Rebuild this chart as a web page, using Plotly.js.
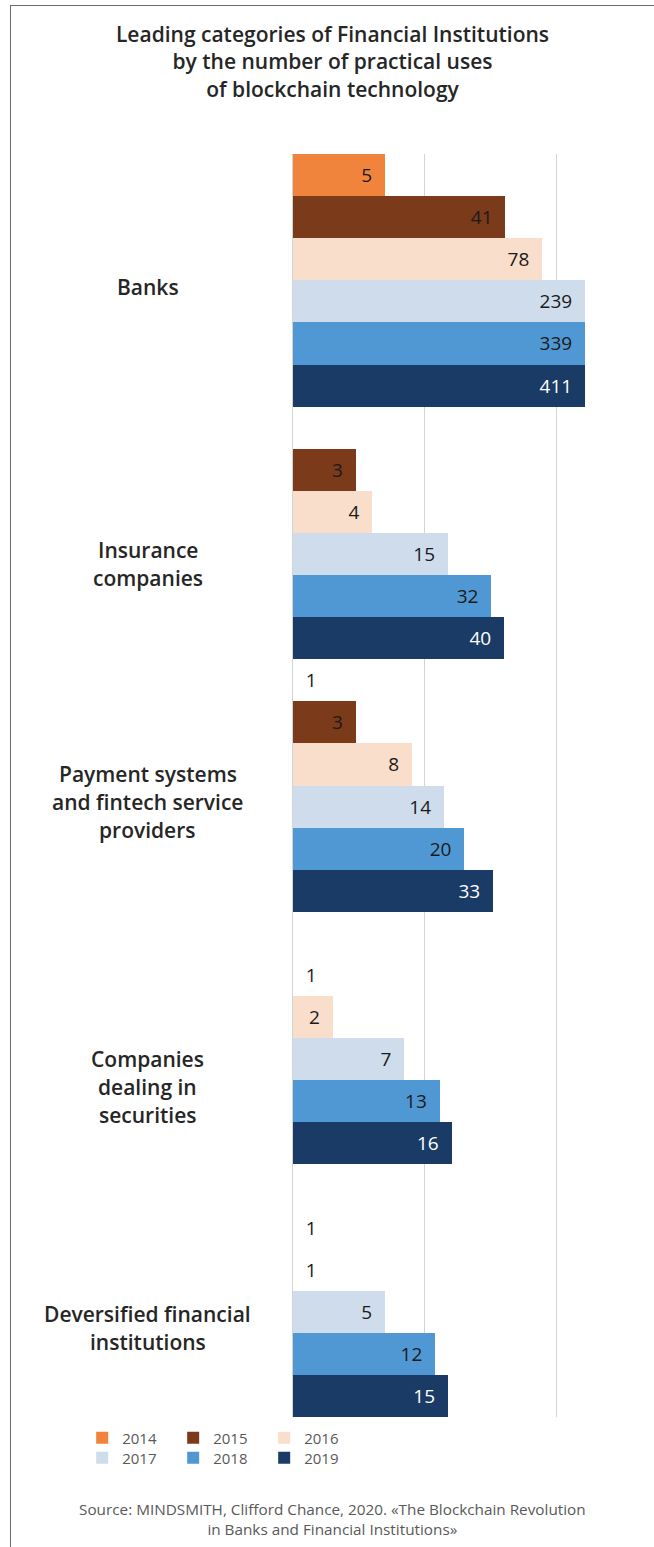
<!DOCTYPE html>
<html><head><meta charset="utf-8">
<script src="https://cdn.plot.ly/plotly-3.0.1.min.js"></script>
<style>
html,body{margin:0;padding:0;background:#fff;}
#wrap{position:relative;width:654px;height:1547px;overflow:hidden;}
#chart{width:654px;height:1547px;}
#frame{position:absolute;left:10px;top:5px;right:-5px;bottom:-5px;border-top:1px solid #6b6b6b;border-left:1px solid #6b6b6b;pointer-events:none;}
</style></head><body>
<div id="wrap"><div id="chart"></div><div id="frame"></div></div>
<script>
// ---- data ----
const categories = [
  'Banks',
  'Insurance<br>companies',
  'Payment systems<br>and fintech service<br>providers',
  'Companies<br>dealing in<br>securities',
  'Deversified financial<br>institutions'
];
const years = ['2014', '2015', '2016', '2017', '2018', '2019'];
const v2014 = [5, null, 1, null, null];
const v2015 = [41, 3, 3, 1, 1];
const v2016 = [78, 4, 8, 2, 1];
const v2017 = [239, 15, 14, 7, 5];
const v2018 = [339, 32, 20, 13, 12];
const v2019 = [411, 40, 33, 16, 15];
const seriesValues = [v2014, v2015, v2016, v2017, v2018, v2019];

const titleText = 'Leading categories of Financial Institutions<br>by the number of practical uses<br>of blockchain technology';
const sourceText = 'Source: MINDSMITH, Clifford Chance, 2020. «The Blockchain Revolution<br>in Banks and Financial Institutions»';

// ---- styles ----
const colors = ['#F1843D', '#7B3B1A', '#F9DECB', '#CFDCEC', '#5098D3', '#193B66'];
const textColors = ['#1a1a1a', '#1a1a1a', '#1a1a1a', '#1a1a1a', '#1a1a1a', '#ffffff'];
const FONT = 'Open Sans, Noto Sans, sans-serif';
const logMax = 2.217;               // x axis upper end (log10)
const axisTop = Math.pow(10, logMax);
const labelNudge = [0.027, 0.123, 0.065, 0.194, 0.148]; // label centre offsets (category units)
const lineStep = 28.3;              // px between label lines

const traces = years.map((yr, k) => ({
  type: 'bar',
  orientation: 'h',
  name: yr,
  y: categories,
  x: seriesValues[k].map(v => v == null ? null : Math.min(v, axisTop)),
  text: seriesValues[k].map(v => v == null ? '' : String(v)),
  texttemplate: seriesValues[k].map(v => (v != null && v <= 1)
    ? '\u00a0\u00a0%{text}' : '\u00a0%{text}\u00a0\u00a0'),
  textposition: seriesValues[k].map(v => (v != null && v <= 1) ? 'outside' : 'inside'),
  insidetextanchor: 'end',
  textfont: {family: FONT, size: 19, color: textColors[k]},
  outsidetextfont: {family: FONT, size: 19, color: '#1a1a1a'},
  marker: {color: colors[k], line: {width: 0}},
  legend: k < 3 ? 'legend' : 'legend2',
  hoverinfo: 'skip'
}));

const annotations = [];
categories.forEach((c, i) => {
  const lines = c.split('<br>');
  lines.forEach((ln, j) => {
    annotations.push({
      text: ln, xref: 'paper', yref: 'y', x: -0.4966, y: i + labelNudge[i],
      xanchor: 'center', yanchor: 'middle', showarrow: false,
      yshift: -(j - (lines.length - 1) / 2) * lineStep,
      font: {family: FONT, size: 21, weight: 600, color: '#262626'}
    });
  });
});
annotations.push({
  text: sourceText, xref: 'paper', yref: 'paper', x: 0.1336, y: -0.0804,
  xanchor: 'center', yanchor: 'middle', showarrow: false, align: 'center',
  font: {family: FONT, size: 15.3, color: '#595959'}
});

const legendBase = {
  orientation: 'h', x: -0.722, xanchor: 'left', yanchor: 'middle',
  entrywidth: 46, entrywidthmode: 'pixels', traceorder: 'normal',
  bgcolor: 'rgba(0,0,0,0)', borderwidth: 0,
  font: {family: FONT, size: 15, color: '#595959'}
};

const layout = {
  width: 654, height: 1547,
  paper_bgcolor: '#ffffff', plot_bgcolor: '#ffffff',
  margin: {l: 293, r: 69, t: 154, b: 130, pad: 0},
  barmode: 'group', bargap: 0, bargroupgap: 0,
  title: {
    text: titleText, xref: 'container', yref: 'container',
    x: 332.5 / 654, xanchor: 'center', y: 1 - 42 / 1547, yanchor: 'middle',
    font: {family: FONT, size: 21, weight: 600, color: '#262626'}
  },
  xaxis: {
    type: 'log', range: [0, logMax], dtick: 1, tick0: 0,
    showgrid: true, gridcolor: '#d4d4d4', gridwidth: 1.5,
    showticklabels: false, ticks: '', zeroline: false, showline: false, fixedrange: true
  },
  yaxis: {
    type: 'category', range: [4.5, -0.5],
    showticklabels: false, ticks: '', showgrid: false,
    showline: true, linecolor: '#d4d4d4', linewidth: 1.5, fixedrange: true
  },
  legend: Object.assign({}, legendBase, {y: -0.0166}),
  legend2: Object.assign({}, legendBase, {y: -0.0325}),
  annotations: annotations,
  showlegend: true
};

Plotly.newPlot('chart', traces, layout, {displayModeBar: false, staticPlot: true});
</script>
</body></html>
